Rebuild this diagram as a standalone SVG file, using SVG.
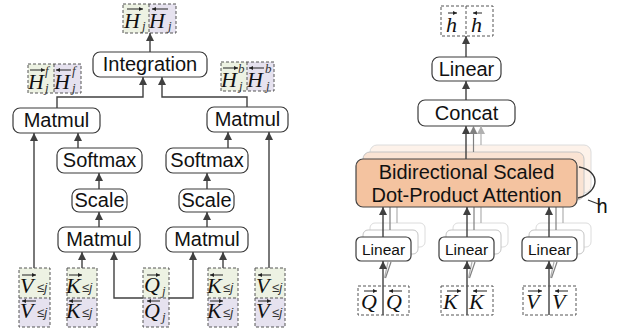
<svg xmlns="http://www.w3.org/2000/svg" width="621" height="335" viewBox="0 0 621 335">
<defs>
<marker id="arr" viewBox="0 0 10 10" refX="10" refY="5" markerWidth="8" markerHeight="9" markerUnits="userSpaceOnUse" orient="auto"><path d="M0,0 L10,5 L0,10 z" fill="#404040"/></marker>
<marker id="arrG" viewBox="0 0 10 10" refX="10" refY="5" markerWidth="8" markerHeight="9" markerUnits="userSpaceOnUse" orient="auto"><path d="M0,0 L10,5 L0,10 z" fill="#808080"/></marker>
<marker id="arrL" viewBox="0 0 10 10" refX="10" refY="5" markerWidth="8" markerHeight="9" markerUnits="userSpaceOnUse" orient="auto"><path d="M0,0 L10,5 L0,10 z" fill="#b0b0b0"/></marker>
<marker id="ah" viewBox="0 0 10 10" refX="10" refY="5" markerWidth="4" markerHeight="4" markerUnits="userSpaceOnUse" orient="auto"><path d="M0,0 L10,5 L0,10 z" fill="#222"/></marker>
</defs>
<style>
.node rect{fill:#fff;stroke:#3a3a3a;stroke-width:1.2}
.lbl{font-family:"Liberation Sans",Arial,sans-serif;font-size:20px;fill:#111;text-anchor:middle}
.sm{font-size:15.5px}
.dash{stroke:#555;stroke-width:1;stroke-dasharray:3,2}
.g{fill:#edf2e3}
.p{fill:#e6e2ef}
.w{fill:#fff}
.m{font-family:"Liberation Serif","Times New Roman",serif;font-style:italic;font-size:22px;fill:#111}
.s{font-family:"Liberation Sans",Arial,sans-serif;font-size:13px;fill:#333}
.si{font-family:"Liberation Serif",serif;font-style:italic;font-size:13px;fill:#333}
.acc{stroke:#222;stroke-width:1;fill:none}
.c{stroke:#404040;stroke-width:1.4;fill:none}
.cg{stroke:#808080;stroke-width:1.2;fill:none}
.cl{stroke:#b0b0b0;stroke-width:1.2;fill:none}
</style>

<!-- ===== Left diagram ===== -->
<g id="H-out">
<rect x="123" y="4" width="26" height="29" class="g"/><rect x="149" y="4" width="27" height="29" class="p"/>
<rect x="123" y="4" width="53" height="29" fill="none" class="dash"/><line x1="149" y1="4" x2="149" y2="33" class="dash"/>
<text x="124" y="28" class="m">H</text><path d="M127 9 H143" class="acc" marker-end="url(#ah)"/><text x="142" y="30" class="si">j</text>
<text x="149" y="28" class="m">H</text><path d="M168 9 H152" class="acc" marker-end="url(#ah)"/><text x="168" y="30" class="si">j</text>
</g>
<g id="H-f">
<rect x="28" y="64" width="26" height="29" class="g"/><rect x="54" y="64" width="27" height="29" class="p"/>
<rect x="28" y="64" width="53" height="29" fill="none" class="dash"/><line x1="54" y1="64" x2="54" y2="93" class="dash"/>
<text x="28" y="89" class="m">H</text><path d="M30 70 H45" class="acc" marker-end="url(#ah)"/><text x="45" y="75" class="si">f</text><text x="45" y="92" class="si" font-size="11">j</text>
<text x="54" y="89" class="m">H</text><path d="M71 70 H56" class="acc" marker-end="url(#ah)"/><text x="72" y="75" class="si">f</text><text x="72" y="92" class="si" font-size="11">j</text>
</g>
<g id="H-b">
<rect x="221" y="62" width="26" height="29" class="g"/><rect x="247" y="62" width="27" height="29" class="p"/>
<rect x="221" y="62" width="53" height="29" fill="none" class="dash"/><line x1="247" y1="62" x2="247" y2="91" class="dash"/>
<text x="221" y="87" class="m">H</text><path d="M223 68 H238" class="acc" marker-end="url(#ah)"/><text x="238" y="73" class="si">b</text><text x="239" y="90" class="si" font-size="11">j</text>
<text x="247" y="87" class="m">H</text><path d="M264 68 H249" class="acc" marker-end="url(#ah)"/><text x="265" y="73" class="si">b</text><text x="266" y="90" class="si" font-size="11">j</text>
</g>

<g id="integration" class="node"><rect x="93" y="52" width="114" height="25" rx="7"/><text x="150" y="71" class="lbl">Integration</text></g>
<g id="matmul-l1" class="node"><rect x="13" y="108" width="87" height="25" rx="7"/><text x="56.5" y="127" class="lbl">Matmul</text></g>
<g id="matmul-r1" class="node"><rect x="207" y="107" width="81" height="25" rx="7"/><text x="247.5" y="126" class="lbl">Matmul</text></g>
<g id="softmax-l" class="node"><rect x="57" y="148" width="85" height="25" rx="7"/><text x="99.5" y="167" class="lbl">Softmax</text></g>
<g id="softmax-r" class="node"><rect x="166" y="148" width="82" height="25" rx="7"/><text x="207" y="167" class="lbl">Softmax</text></g>
<g id="scale-l" class="node"><rect x="72" y="189" width="55" height="23" rx="7"/><text x="99.5" y="207" class="lbl" font-size="18.5">Scale</text></g>
<g id="scale-r" class="node"><rect x="179" y="189" width="55" height="23" rx="7"/><text x="206.5" y="207" class="lbl" font-size="18.5">Scale</text></g>
<g id="matmul-l2" class="node"><rect x="58" y="227" width="82" height="25" rx="7"/><text x="99" y="246" class="lbl">Matmul</text></g>
<g id="matmul-r2" class="node"><rect x="166" y="227" width="82" height="25" rx="7"/><text x="207" y="246" class="lbl">Matmul</text></g>

<g id="connectors-left">
<path d="M150 52 V33" class="c" marker-end="url(#arr)"/>
<path d="M57 108 V97 H143 V77" class="c" marker-end="url(#arr)"/>
<path d="M247 107 V97 H162 V77" class="c" marker-end="url(#arr)"/>
<path d="M78 148 V133" class="c" marker-end="url(#arr)"/>
<path d="M34 268 V133" class="c" marker-end="url(#arr)"/>
<path d="M99 189 V173" class="c" marker-end="url(#arr)"/>
<path d="M99 227 V212" class="c" marker-end="url(#arr)"/>
<path d="M82 268 V252" class="c" marker-end="url(#arr)"/>
<path d="M143 298 H114 V252" class="c" marker-end="url(#arr)"/>
<path d="M169 298 H193 V252" class="c" marker-end="url(#arr)"/>
<path d="M228 148 V132" class="c" marker-end="url(#arr)"/>
<path d="M269 268 V132" class="c" marker-end="url(#arr)"/>
<path d="M207 189 V173" class="c" marker-end="url(#arr)"/>
<path d="M207 227 V212" class="c" marker-end="url(#arr)"/>
<path d="M223 268 V252" class="c" marker-end="url(#arr)"/>
</g>

<g id="V-left">
<rect x="19" y="268" width="31" height="30" class="g"/><rect x="19" y="298" width="31" height="29" class="p"/>
<rect x="19" y="268" width="31" height="59" fill="none" class="dash"/><line x1="19" y1="298" x2="50" y2="298" class="dash"/>
<text x="20" y="293" class="m">V</text><path d="M22 275 H36" class="acc" marker-end="url(#ah)"/><text x="37" y="292" class="s">≤<tspan font-style="italic">j</tspan></text>
<text x="20" y="318" class="m">V</text><path d="M36 301 H22" class="acc" marker-end="url(#ah)"/><text x="37" y="317" class="s">≤<tspan font-style="italic">j</tspan></text>
</g>
<g id="K-left">
<rect x="67" y="268" width="30" height="30" class="g"/><rect x="67" y="298" width="30" height="29" class="p"/>
<rect x="67" y="268" width="30" height="59" fill="none" class="dash"/><line x1="67" y1="298" x2="97" y2="298" class="dash"/>
<text x="66" y="293" class="m">K</text><path d="M69 275 H82" class="acc" marker-end="url(#ah)"/><text x="82" y="292" class="s">≤<tspan font-style="italic">j</tspan></text>
<text x="66" y="318" class="m">K</text><path d="M82 301 H69" class="acc" marker-end="url(#ah)"/><text x="82" y="317" class="s">≤<tspan font-style="italic">j</tspan></text>
</g>
<g id="Q-left">
<rect x="143" y="268" width="26" height="30" class="g"/><rect x="143" y="298" width="26" height="29" class="p"/>
<rect x="143" y="268" width="26" height="59" fill="none" class="dash"/><line x1="143" y1="298" x2="169" y2="298" class="dash"/>
<text x="144" y="292" class="m">Q</text><path d="M147 275 H160" class="acc" marker-end="url(#ah)"/><text x="162" y="295" class="si">j</text>
<text x="144" y="318" class="m">Q</text><path d="M160 301 H147" class="acc" marker-end="url(#ah)"/><text x="162" y="321" class="si">j</text>
</g>
<g id="K-right">
<rect x="208" y="268" width="30" height="30" class="g"/><rect x="208" y="298" width="30" height="29" class="p"/>
<rect x="208" y="268" width="30" height="59" fill="none" class="dash"/><line x1="208" y1="298" x2="238" y2="298" class="dash"/>
<text x="207" y="293" class="m">K</text><path d="M223 275 H210" class="acc" marker-end="url(#ah)"/><text x="223" y="292" class="s">≤<tspan font-style="italic">j</tspan></text>
<text x="207" y="318" class="m">K</text><path d="M210 301 H223" class="acc" marker-end="url(#ah)"/><text x="223" y="317" class="s">≤<tspan font-style="italic">j</tspan></text>
</g>
<g id="V-right">
<rect x="255" y="268" width="30" height="30" class="g"/><rect x="255" y="298" width="30" height="29" class="p"/>
<rect x="255" y="268" width="30" height="59" fill="none" class="dash"/><line x1="255" y1="298" x2="285" y2="298" class="dash"/>
<text x="256" y="293" class="m">V</text><path d="M271 275 H258" class="acc" marker-end="url(#ah)"/><text x="272" y="292" class="s">≤<tspan font-style="italic">j</tspan></text>
<text x="256" y="318" class="m">V</text><path d="M258 301 H271" class="acc" marker-end="url(#ah)"/><text x="272" y="317" class="s">≤<tspan font-style="italic">j</tspan></text>
</g>

<!-- ===== Right diagram ===== -->
<g id="h-out">
<rect x="441" y="6" width="52" height="30" class="w dash"/><line x1="466" y1="6" x2="466" y2="36" class="dash"/>
<text x="446" y="32" class="m" font-size="23">h</text><path d="M448 13 H457" class="acc" marker-end="url(#ah)"/>
<text x="471" y="32" class="m" font-size="23">h</text><path d="M482 13 H473" class="acc" marker-end="url(#ah)"/>
</g>
<g id="linear-top" class="node"><rect x="432" y="57" width="69" height="24" rx="7"/><text x="466.5" y="76" class="lbl" font-size="19">Linear</text></g>
<g id="concat" class="node"><rect x="418" y="100" width="97" height="26" rx="7"/><text x="466.5" y="120" class="lbl" font-size="19">Concat</text></g>

<g id="attention-stack">
<rect x="370" y="145" width="221" height="48" rx="7" fill="#fdf2ea" stroke="#dcdcdc" stroke-width="1"/>
<rect x="363" y="152" width="221" height="48" rx="7" fill="#fae3d3" stroke="#c4c4c4" stroke-width="1"/>
</g>
<g id="linear-back">
<rect x="370" y="223" width="55" height="24" rx="5" fill="#fff" stroke="#dcdcdc"/>
<rect x="363" y="230" width="55" height="24" rx="5" fill="#fff" stroke="#c4c4c4"/>
<rect x="453" y="223" width="55" height="24" rx="5" fill="#fff" stroke="#dcdcdc"/>
<rect x="446" y="230" width="55" height="24" rx="5" fill="#fff" stroke="#c4c4c4"/>
<rect x="536" y="223" width="55" height="24" rx="5" fill="#fff" stroke="#dcdcdc"/>
<rect x="529" y="230" width="55" height="24" rx="5" fill="#fff" stroke="#c4c4c4"/>
</g>

<g id="connectors-right">
<path d="M466 57 V36" class="c" marker-end="url(#arr)"/>
<path d="M466 100 V81" class="c" marker-end="url(#arr)"/>
<path d="M481 145 V126" class="cl" marker-end="url(#arrL)"/>
<path d="M473.5 152 V126" class="cg" marker-end="url(#arrG)"/>
<path d="M466 159 V126" class="c" marker-end="url(#arr)"/>
<path d="M397 223 V193" class="cl"/><path d="M390 230 V200" class="cg"/>
<path d="M481 223 V193" class="cl"/><path d="M474 230 V200" class="cg"/>
<path d="M563 223 V193" class="cl"/><path d="M556 230 V200" class="cg"/>
<path d="M384.5 278 L388 262" class="cl"/><path d="M385.5 278 L391 262" class="cg"/>
<path d="M468.5 278 L472 262" class="cl"/><path d="M469.5 278 L475 262" class="cg"/>
<path d="M550.5 278 L554 262" class="cl"/><path d="M551.5 278 L557 262" class="cg"/>
</g>

<g id="attention" class="node">
<rect x="356" y="159" width="221" height="48" rx="7" style="fill:#f4c3a0;stroke:#444"/>
<text x="466.5" y="179" class="lbl">Bidirectional Scaled</text>
<text x="466.5" y="202" class="lbl">Dot-Product Attention</text>
</g>
<g id="linear-q" class="node"><rect x="356" y="237" width="55" height="24" rx="5"/><text x="383.5" y="254.5" class="lbl sm">Linear</text></g>
<g id="linear-k" class="node"><rect x="439" y="237" width="55" height="24" rx="5"/><text x="466.5" y="254.5" class="lbl sm">Linear</text></g>
<g id="linear-v" class="node"><rect x="522" y="237" width="55" height="24" rx="5"/><text x="549.5" y="254.5" class="lbl sm">Linear</text></g>

<g id="connectors-right-front">
<path d="M383 237 V207" class="c" marker-end="url(#arr)"/>
<path d="M467 237 V207" class="c" marker-end="url(#arr)"/>
<path d="M549 237 V207" class="c" marker-end="url(#arr)"/>
<path d="M383 315 V261" class="c" marker-end="url(#arr)"/>
<path d="M467 315 V261" class="c" marker-end="url(#arr)"/>
<path d="M549 315 V261" class="c" marker-end="url(#arr)"/>
</g>

<g id="Q-in">
<rect x="358" y="286" width="51" height="29" fill="none" class="dash"/>
<text x="361" y="309" class="m">Q</text><path d="M364 291 H377" class="acc" marker-end="url(#ah)"/>
<text x="386" y="309" class="m">Q</text><path d="M402 291 H389" class="acc" marker-end="url(#ah)"/>
</g>
<g id="K-in">
<rect x="441" y="286" width="52" height="29" fill="none" class="dash"/>
<text x="443" y="309" class="m">K</text><path d="M447 291 H461" class="acc" marker-end="url(#ah)"/>
<text x="469" y="309" class="m">K</text><path d="M487 291 H473" class="acc" marker-end="url(#ah)"/>
</g>
<g id="V-in">
<rect x="523" y="286" width="53" height="29" fill="none" class="dash"/>
<text x="526" y="309" class="m">V</text><path d="M528 291 H542" class="acc" marker-end="url(#ah)"/>
<text x="552" y="309" class="m">V</text><path d="M568 291 H555" class="acc" marker-end="url(#ah)"/>
</g>

<g id="heads-bracket">
<path d="M579 167 C601 171 600 192 578 198" fill="none" stroke="#333" stroke-width="1.4"/>
<line x1="588" y1="200" x2="601" y2="205" stroke="#333" stroke-width="1.2"/>
<text x="602" y="213" class="lbl" font-size="20" text-anchor="start">h</text>
</g>
</svg>
